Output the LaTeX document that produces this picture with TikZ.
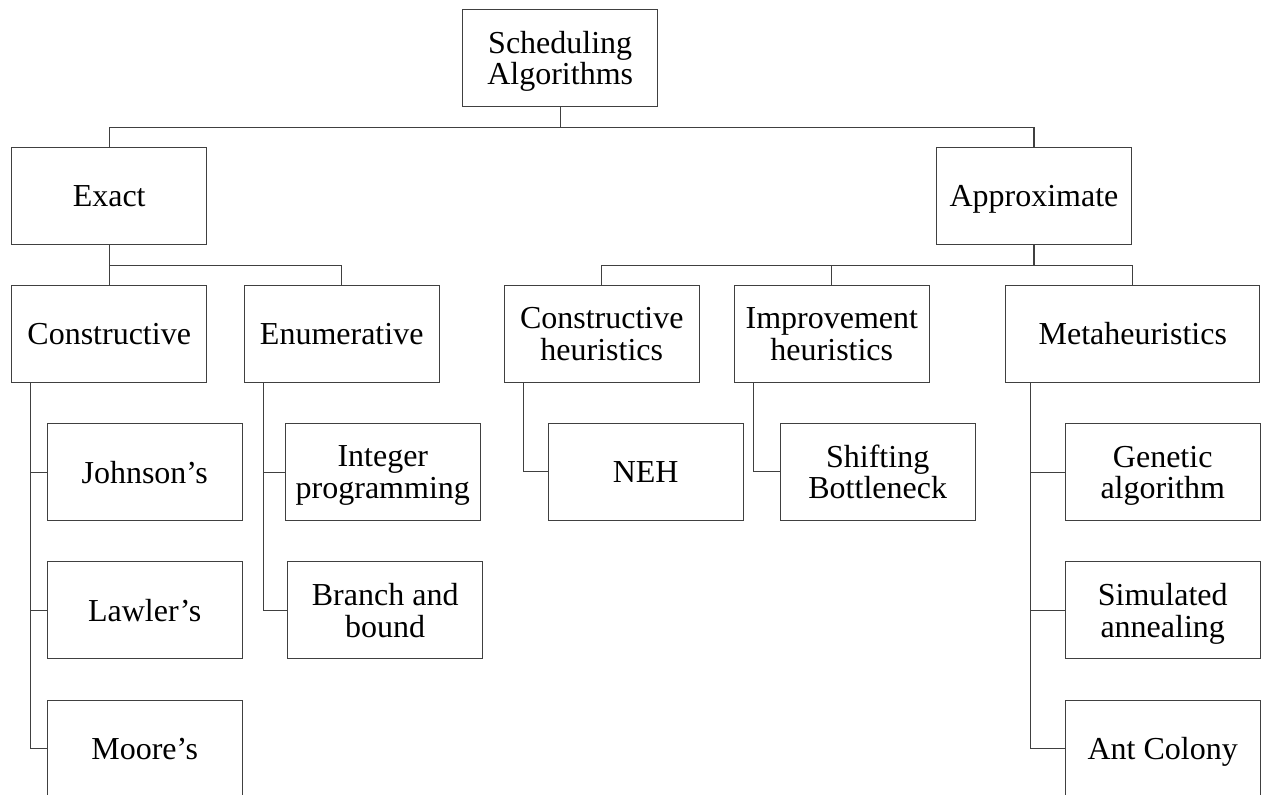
\documentclass[tikz,border=0pt]{standalone}
\usepackage{fontspec}
\setmainfont{Liberation Serif}
\begin{document}
\begin{tikzpicture}[x=0.5pt, y=-0.5pt]
	\pgfmathsetmacro{\busDrop}{20.6}
	\tikzstyle{box}=[draw=black!75, line width=0.55pt, minimum width=97.5pt, minimum height=48.5pt, inner sep=0pt, text depth=0pt, align=center, font=\fontsize{16}{15.8}\selectfont]
	\tikzstyle{wide}=[minimum width=127pt]
	\tikzstyle{link}=[draw=black!75, line width=0.55pt]

	\useasboundingbox (0,0) rectangle (1262,794);

	\node[box] (Root) at (560.2, 57.7)	{Scheduling\\Algorithms};

	\node[box] (Exact) at (109.2, 195.8)	{Exact};
	\node[box] (Approx) at (1034, 195.8)	{Approximate};

	\node[box] (Constr) at (109.2, 333.8)	{Constructive};
	\node[box] (Enum) at (341.7, 333.8)	{Enumerative};
	\node[box] (ConstrHeur) at (601.8, 333.8)	{Constructive\\heuristics};
	\node[box] (ImprHeur) at (831.8, 333.8)	{Improvement\\heuristics};
	\node[box, wide] (Meta) at (1132.8, 333.8)	{Metaheuristics};

	\node[box] (Johnson) at (144.7, 472.2)	{Johnson’s};
	\node[box] (Lawler) at (144.7, 610.3)	{Lawler’s};
	\node[box] (Moore) at (144.7, 748.8)	{Moore’s};

	\node[box] (IntProg) at (382.8, 472.2)	{Integer\\programming};
	\node[box] (BnB) at (385.2, 610.3)	{Branch and\\bound};

	\node[box] (NEH) at (645.7, 471.8)	{NEH};
	\node[box] (Shifting) at (877.7, 471.8)	{Shifting\\Bottleneck};

	\node[box] (Genetic) at (1162.7, 472.2)	{Genetic\\algorithm};
	\node[box] (SimAnn) at (1162.7, 610.3)	{Simulated\\annealing};
	\node[box] (AntCol) at (1162.7, 748.8)	{Ant Colony};

	\draw[link] (Root.south) -- ++(0,\busDrop) -| (Exact.north);
	\draw[link] (Root.south) -- ++(0,\busDrop) -| (Approx.north);

	\draw[link] (Exact.south) -- ++(0,\busDrop) -| (Constr.north);
	\draw[link] (Exact.south) -- ++(0,\busDrop) -| (Enum.north);

	\draw[link] (Approx.south) -- ++(0,\busDrop) -| (ConstrHeur.north);
	\draw[link] (Approx.south) -- ++(0,\busDrop) -| (ImprHeur.north);
	\draw[link] (Approx.south) -- ++(0,\busDrop) -| (Meta.north);

	\draw[link] ([xshift=9.8pt]Constr.south west) |- (Johnson.west);
	\draw[link] ([xshift=9.8pt]Constr.south west) |- (Lawler.west);
	\draw[link] ([xshift=9.8pt]Constr.south west) |- (Moore.west);

	\draw[link] ([xshift=9.7pt]Enum.south west) |- (IntProg.west);
	\draw[link] ([xshift=9.7pt]Enum.south west) |- (BnB.west);

	\draw[link] ([xshift=9.7pt]ConstrHeur.south west) |- (NEH.west);
	\draw[link] ([xshift=9.85pt]ImprHeur.south west) |- (Shifting.west);

	\draw[link] ([xshift=12.5pt]Meta.south west) |- (Genetic.west);
	\draw[link] ([xshift=12.5pt]Meta.south west) |- (SimAnn.west);
	\draw[link] ([xshift=12.5pt]Meta.south west) |- (AntCol.west);
\end{tikzpicture}
\end{document}
